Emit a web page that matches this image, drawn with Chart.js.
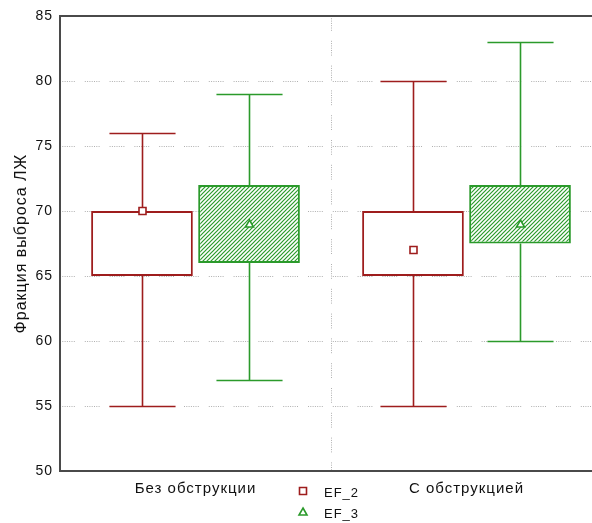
<!DOCTYPE html>
<html>
<head>
<meta charset="utf-8">
<script src="https://cdn.jsdelivr.net/npm/chart.js@4.4.1/dist/chart.umd.min.js"></script>
<style>
  html, body { margin: 0; padding: 0; background: #fff; width: 592px; height: 523px; overflow: hidden; }
  #wrap { width: 606px; height: 523px; position: relative; }
</style>
</head>
<body>
<div id="wrap"><canvas id="c"></canvas></div>
<script>
// Groups and the two measured series (box = lower/upper quartile, whiskers = min/max, marker = central value)
const groups = ['Без обструкции', 'С обструкцией'];
const seriesNames = ['EF_2', 'EF_3'];

const ef2Min  = [55, 55];
const ef2Low  = [65, 65];
const ef2High = [70, 70];
const ef2Max  = [76, 80];
const ef2Mark = [70, 67];

const ef3Min  = [57, 60];
const ef3Low  = [66, 67.5];
const ef3High = [72, 72];
const ef3Max  = [79, 83];
const ef3Mark = [69, 69];

const yTicks = [50, 55, 60, 65, 70, 75, 80, 85];
const yTitle = 'Фракция выброса ЛЖ';

const RED = '#9e1d1d';
const GREEN = '#2b9a2b';
const TEXT = '#111111';
const FONT = 'Arial, "Liberation Sans", sans-serif';
const gridDash = [1, 1.3, 1, 1.3, 1, 1.3, 1, 1.3, 1, 1.3, 1, 1.3, 1, 10];

// diagonal hatch fill for the EF_3 boxes
function hatch(color) {
  const p = document.createElement('canvas');
  p.width = 4; p.height = 4;
  const g = p.getContext('2d');
  g.fillStyle = '#fff';
  g.fillRect(0, 0, 4, 4);
  g.strokeStyle = color;
  g.lineWidth = 1.2;
  g.beginPath();
  g.moveTo(-1, 5); g.lineTo(5, -1);
  g.moveTo(-1, 1); g.lineTo(1, -1);
  g.moveTo(3, 5); g.lineTo(5, 3);
  g.stroke();
  return g.createPattern(p, 'repeat');
}

const whiskerData = [
  { min: ef2Min, max: ef2Max, mark: ef2Mark, color: RED, style: 'rect' },
  { min: ef3Min, max: ef3Max, mark: ef3Mark, color: GREEN, style: 'triangle' }
];

function drawMarker(ctx, style, x, y, color) {
  ctx.save();
  ctx.lineWidth = 1.6;
  ctx.strokeStyle = color;
  ctx.fillStyle = '#fff';
  ctx.beginPath();
  if (style === 'rect') {
    ctx.rect(x - 3.5, y - 3.5, 7, 7);
  } else {
    ctx.moveTo(x, y - 4);
    ctx.lineTo(x + 4, y + 3);
    ctx.lineTo(x - 4, y + 3);
    ctx.closePath();
  }
  ctx.fill();
  ctx.stroke();
  ctx.restore();
}

const boxPlotPlugin = {
  id: 'boxWhiskers',
  beforeDraw(chart) {
    chart.ctx.letterSpacing = '1px';
  },
  afterDatasetsDraw(chart) {
    const ctx = chart.ctx;
    const ys = chart.scales.y;
    whiskerData.forEach((w, di) => {
      const meta = chart.getDatasetMeta(di);
      meta.data.forEach((bar, j) => {
        const x = Math.round(bar.x) + 0.5;
        const half = bar.width * 0.325;
        const yMin = Math.round(ys.getPixelForValue(w.min[j])) + 0.5;
        const yMax = Math.round(ys.getPixelForValue(w.max[j])) + 0.5;
        const top = ys.getPixelForValue(chart.data.datasets[di].data[j][1]);
        const bot = ys.getPixelForValue(chart.data.datasets[di].data[j][0]);
        ctx.save();
        ctx.strokeStyle = w.color;
        ctx.lineWidth = 1.6;
        ctx.beginPath();
        ctx.moveTo(x, top); ctx.lineTo(x, yMax);
        ctx.moveTo(x - half, yMax); ctx.lineTo(x + half, yMax);
        ctx.moveTo(x, bot); ctx.lineTo(x, yMin);
        ctx.moveTo(x - half, yMin); ctx.lineTo(x + half, yMin);
        ctx.stroke();
        ctx.restore();
        drawMarker(ctx, w.style, x, ys.getPixelForValue(w.mark[j]), w.color);
      });
    });
  },
  afterDraw(chart) {
    const ctx = chart.ctx;
    const a = chart.chartArea;
    // frame: left, top and bottom axis lines
    ctx.save();
    ctx.strokeStyle = '#4a4a4a';
    ctx.lineWidth = 2;
    ctx.beginPath();
    ctx.moveTo(a.left, a.bottom); ctx.lineTo(a.right, a.bottom);
    ctx.moveTo(a.left, a.top); ctx.lineTo(a.right, a.top);
    ctx.moveTo(a.left, a.top - 1); ctx.lineTo(a.left, a.bottom + 1);
    ctx.stroke();
    // legend
    const lx = 303, ly = a.bottom + 20;
    ctx.font = '13px ' + FONT;
    ctx.letterSpacing = '1px';
    ctx.fillStyle = TEXT;
    ctx.textBaseline = 'middle';
    ctx.textAlign = 'left';
    whiskerData.forEach((w, i) => {
      const yy = ly + i * 21;
      drawMarker(ctx, w.style, lx, yy, w.color);
      ctx.fillText(seriesNames[i], lx + 21, yy + 2);
    });
    ctx.restore();
  }
};

new Chart(document.getElementById('c'), {
  type: 'bar',
  data: {
    labels: groups,
    datasets: [
      {
        label: seriesNames[0],
        data: ef2Low.map((v, i) => [v, ef2High[i]]),
        backgroundColor: '#ffffff',
        borderColor: RED,
        borderWidth: 2,
        borderSkipped: false,
        barPercentage: 0.95,
        categoryPercentage: 0.79
      },
      {
        label: seriesNames[1],
        data: ef3Low.map((v, i) => [v, ef3High[i]]),
        backgroundColor: hatch(GREEN),
        borderColor: GREEN,
        borderWidth: 2,
        borderSkipped: false,
        barPercentage: 0.95,
        categoryPercentage: 0.79
      }
    ]
  },
  options: {
    responsive: true,
    maintainAspectRatio: false,
    animation: false,
    layout: { padding: { top: 16, right: 4, left: 0, bottom: 0 } },
    plugins: { legend: { display: false }, tooltip: { enabled: false } },
    scales: {
      x: {
        offset: true,
        grid: { offset: true, color: '#b0b0b0', lineWidth: 1, drawTicks: false },
        border: { display: false, dash: gridDash },
        ticks: { color: TEXT, font: { family: FONT, size: 15 }, padding: 9 },
        afterFit(s) { s.height = 52; }
      },
      y: {
        min: yTicks[0],
        max: yTicks[yTicks.length - 1],
        afterBuildTicks(s) { s.ticks = yTicks.map(v => ({ value: v })); },
        grid: {
          color: c => (c.tick && (c.tick.value === yTicks[0] || c.tick.value === yTicks[yTicks.length - 1])) ? 'rgba(0,0,0,0)' : '#b0b0b0',
          lineWidth: 1,
          drawTicks: false
        },
        border: { display: false, dash: gridDash },
        ticks: { color: TEXT, font: { family: FONT, size: 14 }, padding: 7 },
        title: { display: true, text: yTitle, color: TEXT, font: { family: FONT, size: 16 }, padding: { top: 12, bottom: 0 } },
        afterFit(s) { s.width = 60; }
      }
    }
  },
  plugins: [boxPlotPlugin]
});
</script>
</body>
</html>
